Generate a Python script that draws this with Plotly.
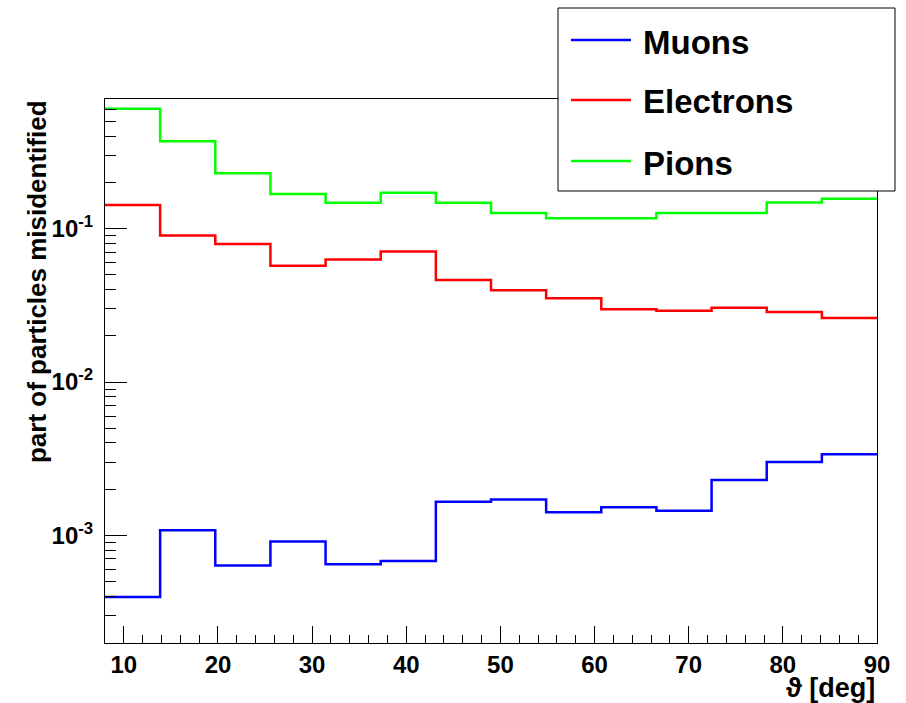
import plotly.graph_objects as go

# ---- data ----
bin_edges = [8.0, 13.857, 19.714, 25.571, 31.429, 37.286, 43.143, 49.0,
             54.857, 60.714, 66.571, 72.429, 78.286, 84.143, 90.0]
muons = [3.95e-4, 1.078e-3, 6.34e-4, 9.1e-4, 6.46e-4, 6.79e-4, 1.651e-3,
         1.71e-3, 1.413e-3, 1.524e-3, 1.442e-3, 2.29e-3, 3.0e-3, 3.37e-3]
electrons = [0.143, 0.0904, 0.0798, 0.0575, 0.0630, 0.0711, 0.0464,
             0.0398, 0.0352, 0.0299, 0.0292, 0.0305, 0.0287, 0.0262]
pions = [0.608, 0.374, 0.231, 0.169, 0.148, 0.172, 0.148,
         0.127, 0.1175, 0.1175, 0.127, 0.127, 0.1486, 0.157]
series_names = ["Muons", "Electrons", "Pions"]
series_colors = ["#0000ff", "#ff0000", "#00ff00"]
y_tick_vals = [1e-3, 1e-2, 1e-1]
y_tick_text = ["10<sup>-3</sup>", "10<sup>-2</sup>", "10<sup>-1</sup>"]

FONT = "Liberation Sans, Arial, Helvetica, sans-serif"

fig = go.Figure()
for name, vals, col in zip(series_names, [muons, electrons, pions], series_colors):
    fig.add_trace(go.Scatter(
        x=bin_edges, y=vals + [vals[-1]], mode="lines", name=name,
        line=dict(color=col, width=2.5, shape="hv"), showlegend=False))

# minor tick positions for log axis (decoration)
minor_vals = [k * 10.0 ** e for e in (-4, -3, -2, -1) for k in range(2, 10)]

fig.update_layout(
    width=906, height=703,
    margin=dict(l=105, r=29, t=99, b=60),
    paper_bgcolor="white", plot_bgcolor="white",
    font=dict(family=FONT, color="black"),
    xaxis=dict(
        range=[8, 90], showgrid=False, zeroline=False,
        showline=True, linecolor="black", linewidth=1, mirror=True,
        ticks="inside", ticklen=17, tickwidth=1, tickcolor="black",
        tick0=0, dtick=10,
        minor=dict(ticks="inside", ticklen=8, tickwidth=1, tickcolor="black",
                   tick0=0, dtick=2),
        tickfont=dict(family=FONT, size=24, weight="bold", color="black"),
        ticklabelstandoff=0,
    ),
    yaxis=dict(
        type="log", range=[-3.704, -0.152], showgrid=False, zeroline=False,
        showline=True, linecolor="black", linewidth=1, mirror=True,
        ticks="inside", ticklen=22, tickwidth=1, tickcolor="black",
        tickmode="array", tickvals=y_tick_vals, ticktext=y_tick_text,
        minor=dict(ticks="inside", ticklen=11, tickwidth=1, tickcolor="black",
                   tickmode="array", tickvals=minor_vals),
        tickfont=dict(family=FONT, size=24, weight="bold", color="black"),
        ticklabelstandoff=6,
    ),
)

# axis titles (ROOT style: aligned to axis end)
fig.add_annotation(
    text="part of particles misidentified", textangle=-90,
    xref="paper", yref="paper", x=-0.088, y=0.6636,
    xanchor="center", yanchor="middle", showarrow=False,
    font=dict(family=FONT, size=26, weight="bold", color="black"))
fig.add_annotation(
    text="ϑ [deg]", xref="paper", yref="paper", x=1.0, y=-0.083,
    xanchor="right", yanchor="middle", showarrow=False,
    font=dict(family=FONT, size=27, weight="bold", color="black"))

# legend box (ROOT TLegend look)
def px_x(p):
    return (p - 105) / 772.0

def px_y(p):
    return (643 - p) / 544.0

fig.add_shape(type="rect", xref="paper", yref="paper",
              x0=px_x(558), x1=px_x(895), y0=px_y(191), y1=px_y(8),
              line=dict(color="black", width=1), fillcolor="white", layer="above")
legend_rows = [40, 100, 161]
for name, col, ry in zip(series_names, series_colors, legend_rows):
    fig.add_shape(type="line", xref="paper", yref="paper",
                  x0=px_x(571), x1=px_x(631), y0=px_y(ry), y1=px_y(ry),
                  line=dict(color=col, width=2.5), layer="above")
    fig.add_annotation(text=name, xref="paper", yref="paper",
                       x=px_x(641), y=px_y(ry + 2), xanchor="left", yanchor="middle",
                       showarrow=False,
                       font=dict(family=FONT, size=33, weight="bold", color="black"))

fig.write_html("out.html")
